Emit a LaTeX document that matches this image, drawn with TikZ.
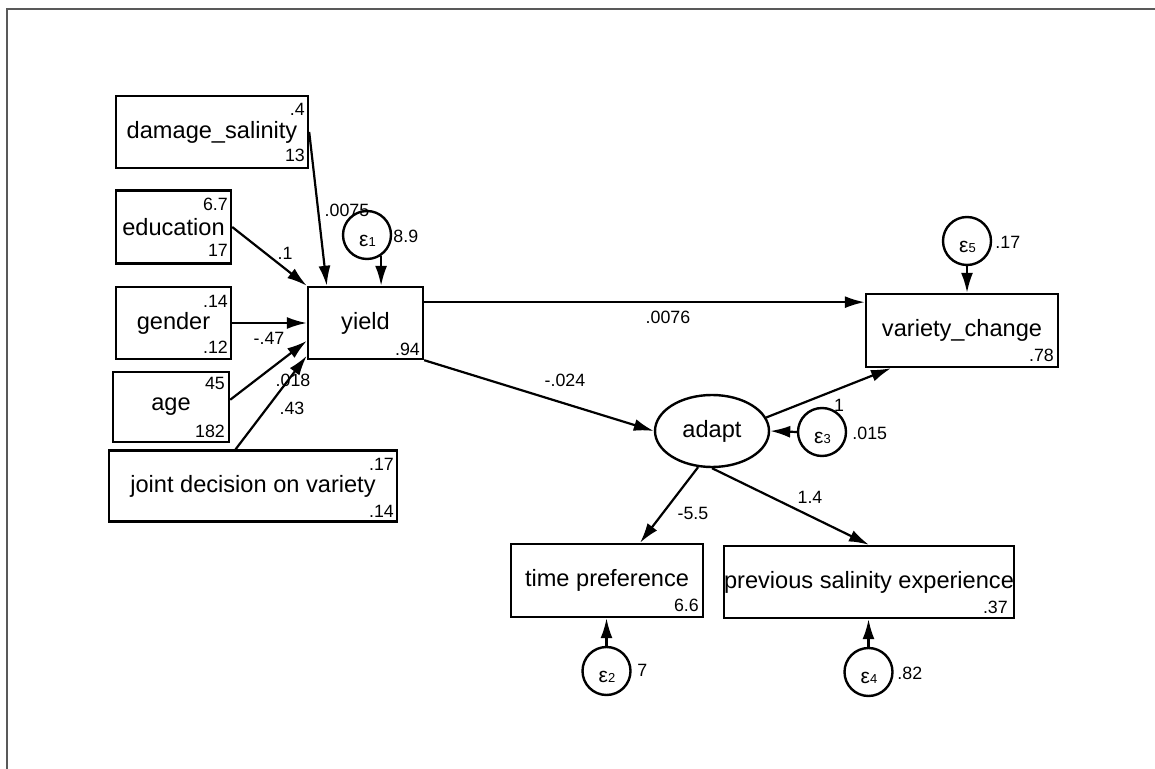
\documentclass[tikz,border=0pt]{standalone}
\usepackage{fontspec}
\setmainfont{Liberation Sans}
\usetikzlibrary{arrows.meta,calc,shapes.geometric}
\newcommand\myeps[1]{{\fontsize{10.5pt}{11pt}\selectfont ε}{\fontsize{6.5pt}{7pt}\selectfont #1}}
\tikzset{
  box/.style={draw, line width=1.2pt, rectangle, inner sep=0pt, font=\fontsize{11.8pt}{14pt}\selectfont},
  lat/.style={draw, ellipse, line width=1.2pt, inner sep=0pt, minimum width=57pt, minimum height=36pt, font=\fontsize{11.8pt}{14pt}\selectfont},
  errc/.style={draw, circle, line width=1.2pt, minimum size=24pt, inner sep=0pt},
  epsl/.style={inner sep=0pt},
  num/.style={inner sep=0pt, font=\fontsize{8.9pt}{10pt}\selectfont},
  arr/.style={line width=1.1pt, -{Latex[length=10pt,width=6pt]}},
  frameline/.style={draw=black!65, line width=0.6pt}
}
\begin{document}
\begin{tikzpicture}[x=0.5pt,y=-0.5pt]
\useasboundingbox (0,0) rectangle (1155,769);
\draw[frameline] (7,769) -- (7,9) -- (1155,9);

% observed boxes
\node[box, minimum width=96pt, minimum height=36pt] (dmg) at (212,132) {damage\_salinity};
\node[box, minimum width=57.5pt, minimum height=36.5pt] (edu) at (173.5,227) {education};
\node[box, minimum width=57.5pt, minimum height=36pt] (gen) at (173.5,323) {gender};
\node[box, minimum width=58pt, minimum height=35pt] (age) at (171,407) {age};
\node[box, minimum width=144pt, minimum height=35.5pt] (joint) at (253,486) {joint decision on variety};
\node[box, minimum width=57.5pt, minimum height=36pt] (yield) at (365.5,323) {yield};
\node[box, minimum width=96pt, minimum height=36.5pt] (varch) at (962,330.5) {variety\_change};
\node[box, minimum width=96pt, minimum height=36.5pt] (timep) at (607,580.5) {time preference};
\node[box, minimum width=144pt, minimum height=36pt] (prevs) at (869,582) {previous salinity experience};
% latent
\node[lat] (adapt) at (712,431) {adapt};
% error circles
\node[errc] (e1) at (367,235) {};
\node[errc] (e5) at (967,241) {};
\node[errc] (e3) at (822,432) {};
\node[errc] (e2) at (606.5,671) {};
\node[errc] (e4) at (868.5,672) {};
\node[epsl] (e1t) at (367.5,241) {\myeps{1}};
\node[epsl] (e5t) at (967.5,247) {\myeps{5}};
\node[epsl] (e3t) at (822.5,438) {\myeps{3}};
\node[epsl] (e2t) at (607,677) {\myeps{2}};
\node[epsl] (e4t) at (869,678) {\myeps{4}};

% means / intercepts / variances in boxes
\node[num, anchor=east] (dmgA) at ($(dmg.north east)+(-4,15)$) {.4};
\node[num, anchor=east] (dmgB) at ($(dmg.south east)+(-4,-14)$) {13};
\node[num, anchor=east] (eduA) at ($(edu.north east)+(-4,15)$) {6.7};
\node[num, anchor=east] (eduB) at ($(edu.south east)+(-4,-14)$) {17};
\node[num, anchor=east] (genA) at ($(gen.north east)+(-4,16)$) {.14};
\node[num, anchor=east] (genB) at ($(gen.south east)+(-4,-13)$) {.12};
\node[num, anchor=east] (ageA) at ($(age.north east)+(-5,13)$) {45};
\node[num, anchor=east] (ageB) at ($(age.south east)+(-5,-12)$) {182};
\node[num, anchor=east] (jointA) at ($(joint.north east)+(-4,15)$) {.17};
\node[num, anchor=east] (jointB) at ($(joint.south east)+(-4,-11)$) {.14};
\node[num, anchor=east] (yieldB) at ($(yield.south east)+(-4,-11)$) {.94};
\node[num, anchor=east] (varchB) at ($(varch.south east)+(-5,-13)$) {.78};
\node[num, anchor=east] (timepB) at ($(timep.south east)+(-5,-13)$) {6.6};
\node[num, anchor=east] (prevsB) at ($(prevs.south east)+(-7,-12)$) {.37};

% paths into yield
\draw[arr] (dmg.east) -- ($(yield.north west)!0.17!(yield.north east)$);
\draw[arr] (edu.east) -- (yield.north west);
\draw[arr] (gen.east) -- (yield.west);
\draw[arr] ($(age.north east)!0.4!(age.south east)$) -- ($(yield.north west)!0.74!(yield.south west)$);
\draw[arr] ($(joint.north west)!0.44!(joint.north east)$) -- ($(yield.north west)!0.94!(yield.south west)$);
\draw[arr] (e1.-56) -- (e1.-56 |- yield.north);

% yield out
\coordinate (ys) at ($(yield.north east)!0.22!(yield.south east)$);
\draw[arr] (ys) -- (ys -| varch.west);
\draw[arr] (yield.south east) -- (adapt.west);

% adapt
\draw[arr] (adapt.14) -- ($(varch.south west)!0.135!(varch.south east)$);
\draw[arr] (e3.west) -- (adapt.east);
\draw[arr] (e5.south) -- (e5.south |- varch.north);
\draw[arr] (adapt.249) -- ($(timep.north west)!0.67!(timep.north east)$);
\draw[arr] (adapt.south) -- (prevs.north);
\draw[arr] (e2.north) -- (e2.north |- timep.south);
\draw[arr] (e4.north) -- (e4.north |- prevs.south);

% coefficient labels
\node[num] (l1) at (347,210) {.0075};
\node[num] (l2) at (285,253) {.1};
\node[num] (l3) at (269,338) {-.47};
\node[num] (l4) at (293,380) {.018};
\node[num] (l5) at (292,408) {.43};
\node[num, anchor=west] (l6) at (393,236) {8.9};
\node[num] (l7) at (668,317) {.0076};
\node[num] (l8) at (565,380) {-.024};
\node[num] (l9) at (839,405) {1};
\node[num, anchor=west] (l10) at (852,433) {.015};
\node[num, anchor=west] (l11) at (995,242) {.17};
\node[num] (l12) at (693,513) {-5.5};
\node[num] (l13) at (810,497) {1.4};
\node[num, anchor=west] (l14) at (637,670) {7};
\node[num, anchor=west] (l15) at (897,673) {.82};
\end{tikzpicture}
\end{document}
